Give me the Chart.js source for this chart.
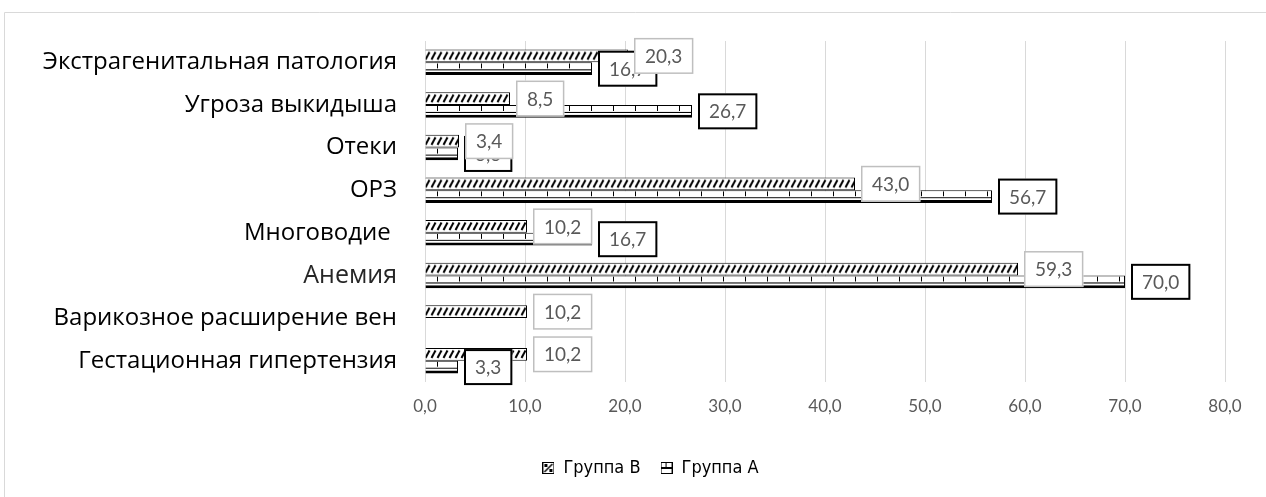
<!DOCTYPE html>
<html>
<head>
<meta charset="utf-8">
<script src="https://cdn.jsdelivr.net/npm/chart.js@4/dist/chart.umd.min.js"></script>
<style>
  html, body { margin: 0; padding: 0; background: #fff; }
  #wrap { width: 1266px; height: 497px; position: relative; }
</style>
</head>
<body>
<div id="wrap"><canvas id="c" width="1266" height="497"></canvas></div>
<script>
// Осложнения беременности по группам, %
const categories = [
  'Экстрагенитальная патология',
  'Угроза выкидыша',
  'Отеки',
  'ОРЗ',
  'Многоводие ',
  'Анемия',
  'Варикозное расширение вен',
  'Гестационная гипертензия'
];
const groupB = [20.3, 8.5, 3.4, 43.0, 10.2, 59.3, 10.2, 10.2];
const groupA = [16.7, 26.7, 3.3, 56.7, 16.7, 70.0, null, 3.3];
const seriesNames = ['Группа В', 'Группа А'];
const xTicks = [0, 10, 20, 30, 40, 50, 60, 70, 80];

const CAT_PCT = 0.6;
const fmt = v => Number(v).toFixed(1).replace('.', ',');

function tile(w, h, draw) {
  const c = document.createElement('canvas');
  c.width = w; c.height = h;
  const g = c.getContext('2d');
  g.fillStyle = '#fff';
  g.fillRect(0, 0, w, h);
  draw(g);
  return c;
}

// диагональная штриховка (группа В)
const tileB = tile(6, 40, g => {
  g.strokeStyle = '#000';
  g.lineWidth = 2;
  for (let x = -6; x <= 12; x += 6) {
    g.beginPath();
    g.moveTo(x + 0.5, 10);
    g.lineTo(x + 4.5, 2.5);
    g.stroke();
  }
});

// «кирпичная» штриховка (группа А)
const tileA = tile(22, 40, g => {
  g.fillStyle = '#000';
  g.fillRect(0, 1, 1, 5);
  g.fillRect(0, 7, 22, 1);
});

function barPattern(ctx, src) {
  const chart = ctx.chart;
  const ys = chart.scales.y;
  if (!ys || ctx.type !== 'data') return '#fff';
  const step = ys.getPixelForValue(1) - ys.getPixelForValue(0);
  const band = step * CAT_PCT;
  const top = ys.getPixelForValue(ctx.dataIndex) - band / 2 + ctx.datasetIndex * band / 2;
  const p = chart.ctx.createPattern(src, 'repeat');
  p.setTransform(new DOMMatrix().translate(chart.chartArea.left + 12, top));
  return p;
}

// значки легенды
const iconB = tile(12, 12, g => {
  g.strokeStyle = '#000'; g.lineWidth = 1;
  g.strokeRect(0.5, 0.5, 11, 11);
  g.lineWidth = 1.5;
  g.beginPath(); g.moveTo(2, 10); g.lineTo(10, 2); g.stroke();
  g.fillStyle = '#000';
  g.fillRect(2, 2, 3, 3);
  g.fillRect(7, 7, 3, 3);
});
const iconA = tile(12, 12, g => {
  g.strokeStyle = '#000'; g.lineWidth = 1;
  g.strokeRect(0.5, 0.5, 11, 11);
  g.fillStyle = '#000';
  g.fillRect(0, 5, 12, 2);
  g.fillRect(5, 1, 1, 4);
});
const icons = [iconB, iconA];

const framePlugin = {
  id: 'frame',
  beforeDraw(chart) {
    const g = chart.ctx;
    g.save();
    g.strokeStyle = '#d9d9d9';
    g.lineWidth = 1;
    g.beginPath();
    g.moveTo(4.5, 497);
    g.lineTo(4.5, 12.5);
    g.lineTo(1266, 12.5);
    g.stroke();
    g.restore();
  }
};

// легенда центрируется по всей ширине области диаграммы
const legendShift = {
  id: 'legendShift',
  afterLayout(chart) {
    const l = chart.legend;
    if (!l) return;
    l.left += 38;
    l.right += 38;
  }
};

const valueLabels = {
  id: 'valueLabels',
  afterDatasetsDraw(chart) {
    const g = chart.ctx;
    g.save();
    g.font = '19px Lato';
    g.textAlign = 'center';
    g.textBaseline = 'middle';
    [1, 0].forEach(di => {
      const meta = chart.getDatasetMeta(di);
      const vals = chart.data.datasets[di].data;
      meta.data.forEach((bar, i) => {
        const v = vals[i];
        if (v === null || v === undefined) return;
        const txt = fmt(v);
        const w = g.measureText(txt).width + 22;
        const h = 36;
        const x = bar.x + 6;
        const y = bar.y - h / 2;
        g.fillStyle = '#fff';
        g.fillRect(x, y, w, h);
        if (di === 1) {
          g.strokeStyle = '#000';
          g.lineWidth = 2;
          g.strokeRect(x + 1, y + 1, w - 2, h - 2);
        } else {
          g.strokeStyle = '#bfbfbf';
          g.lineWidth = 1.5;
          g.strokeRect(x + 0.75, y + 0.75, w - 1.5, h - 1.5);
        }
        g.fillStyle = '#595959';
        g.fillText(txt, x + w / 2, bar.y + 1);
      });
    });
    g.restore();
  }
};

new Chart(document.getElementById('c'), {
  type: 'bar',
  data: {
    labels: categories,
    datasets: [
      {
        label: seriesNames[0],
        data: groupB,
        backgroundColor: ctx => barPattern(ctx, tileB),
        borderColor: '#000',
        borderWidth: { top: 1, bottom: 1, right: 1, left: 0 },
        borderSkipped: false,
        categoryPercentage: CAT_PCT,
        barPercentage: 1
      },
      {
        label: seriesNames[1],
        data: groupA,
        backgroundColor: ctx => barPattern(ctx, tileA),
        borderColor: '#000',
        borderWidth: { top: 1, bottom: 3, right: 1, left: 0 },
        borderSkipped: false,
        categoryPercentage: CAT_PCT,
        barPercentage: 1
      }
    ]
  },
  options: {
    indexAxis: 'y',
    responsive: false,
    animation: false,
    devicePixelRatio: 1,
    events: [],
    layout: { padding: { top: 41, right: 41, bottom: 10, left: 0 } },
    scales: {
      x: {
        min: 0,
        max: 80,
        afterBuildTicks(s) { s.ticks = xTicks.map(v => ({ value: v })); },
        ticks: {
          callback: v => fmt(v),
          color: '#595959',
          font: { family: 'Lato', size: 17 },
          padding: 14
        },
        grid: { color: '#d9d9d9', lineWidth: 1, drawTicks: false },
        border: { display: false },
        afterFit(s) { s.height = 57; }
      },
      y: {
        grid: { display: false },
        border: { display: false },
        ticks: {
          autoSkip: false,
          color: c => (c.index === 5 ? '#262626' : '#000'),
          font: c => ({ family: "'Open Sans'", size: c.index === 5 ? 25 : 24 }),
          padding: 20
        },
        afterFit(s) { s.width = 425; }
      }
    },
    plugins: {
      tooltip: { enabled: false },
      legend: {
        position: 'bottom',
        labels: {
          usePointStyle: true,
          boxWidth: 12,
          boxHeight: 12,
          padding: 20,
          color: '#000',
          font: { family: "'Liberation Sans Narrow', 'DejaVu Sans Condensed', sans-serif", size: 18 },
          generateLabels() {
            return seriesNames.map((n, i) => ({
              text: n,
              pointStyle: icons[i],
              fillStyle: '#fff',
              strokeStyle: '#000',
              lineWidth: 0,
              hidden: false,
              datasetIndex: i,
              fontColor: '#000'
            }));
          }
        }
      }
    }
  },
  plugins: [framePlugin, legendShift, valueLabels]
});
</script>
</body>
</html>
